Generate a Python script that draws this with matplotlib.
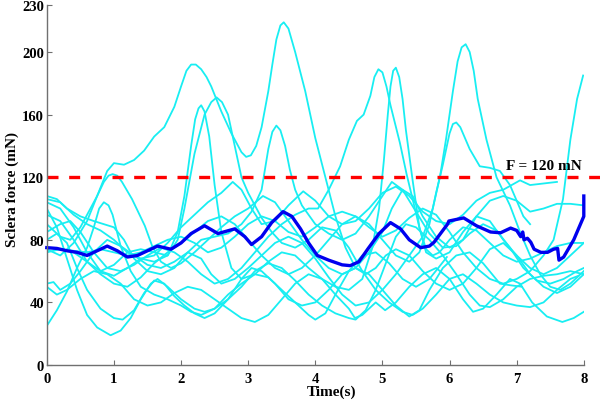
import matplotlib
matplotlib.use('Agg')
import matplotlib.pyplot as plt
import numpy as np

plt.rcParams['font.family'] = ['Liberation Serif', 'DejaVu Serif']
plt.rcParams['font.weight'] = 'bold'

# single trials, (time s, force mN)
c01 = [(0, 74), (0.2, 70), (0.4, 78), (0.6, 92), (0.75, 108), (0.9, 124), (1.0, 129), (1.15, 128),
       (1.3, 131), (1.45, 137), (1.6, 146), (1.75, 152), (1.9, 165), (2.0, 178), (2.08, 188), (2.15, 192),
       (2.22, 192), (2.3, 189), (2.38, 184), (2.45, 178), (2.6, 162), (2.75, 148), (2.9, 136), (2.97, 133),
       (3.04, 134), (3.12, 140), (3.2, 152), (3.3, 175), (3.36, 192), (3.42, 208), (3.48, 217), (3.53, 219),
       (3.6, 215), (3.7, 200), (3.85, 175), (4.0, 145), (4.15, 120), (4.3, 95), (4.45, 75), (4.6, 62),
       (4.75, 58), (4.9, 62), (5.05, 70), (5.2, 74), (5.4, 70), (5.6, 60), (5.8, 52), (6.0, 48),
       (6.2, 52), (6.4, 62), (6.6, 74), (6.8, 78), (7.0, 70), (7.2, 58), (7.4, 50), (7.6, 46),
       (7.8, 50), (8.0, 58)]
c02 = [(0, 104), (0.2, 100), (0.4, 88), (0.6, 72), (0.8, 60), (1.0, 57), (1.2, 62), (1.4, 68),
       (1.6, 66), (1.8, 70), (1.95, 85), (2.05, 108), (2.15, 140), (2.21, 157), (2.26, 164), (2.3, 166),
       (2.35, 162), (2.42, 146), (2.5, 115), (2.6, 85), (2.75, 62), (2.9, 55), (3.1, 58), (3.3, 66),
       (3.5, 72), (3.7, 70), (3.9, 62), (4.1, 55), (4.3, 50), (4.5, 48), (4.7, 55), (4.85, 75),
       (4.95, 100), (5.02, 130), (5.08, 160), (5.12, 178), (5.16, 188), (5.2, 190), (5.25, 184),
       (5.3, 170), (5.35, 150), (5.45, 118), (5.55, 88), (5.65, 72), (5.8, 68), (6.0, 72), (6.2, 85),
       (6.4, 95), (6.6, 92), (6.8, 80), (7.0, 70), (7.2, 62), (7.4, 58), (7.6, 62), (7.8, 70), (8.0, 78)]
c03 = [(0, 96), (0.2, 92), (0.4, 80), (0.6, 66), (0.8, 60), (1.0, 64), (1.2, 72), (1.4, 74),
       (1.6, 72), (1.8, 70), (1.95, 80), (2.05, 100), (2.2, 135), (2.35, 160), (2.45, 168), (2.53, 171),
       (2.61, 168), (2.7, 160), (2.8, 140), (2.9, 120), (3.0, 110), (3.1, 102), (3.2, 94), (3.35, 85),
       (3.5, 78), (3.7, 75), (3.9, 80), (4.1, 88), (4.3, 86), (4.5, 75), (4.7, 60), (4.9, 48),
       (5.1, 40), (5.3, 34), (5.45, 32), (5.6, 36), (5.8, 45), (6.0, 55), (6.2, 58), (6.4, 52),
       (6.6, 45), (6.8, 40), (7.0, 38), (7.2, 37), (7.4, 40), (7.6, 48), (7.8, 55), (7.92, 57)]
c04 = [(0, 90), (0.2, 82), (0.35, 80), (0.5, 88), (0.65, 100), (0.75, 108), (0.85, 117), (0.92, 121),
       (0.98, 122), (1.05, 121), (1.12, 117), (1.27, 106), (1.46, 89), (1.57, 76), (1.7, 66), (1.85, 62),
       (2.0, 65), (2.2, 72), (2.4, 80), (2.6, 88), (2.8, 95), (3.0, 100), (3.22, 108), (3.4, 104),
       (3.6, 92), (3.8, 80), (4.0, 70), (4.2, 62), (4.4, 58), (4.6, 62), (4.8, 72), (5.0, 85),
       (5.14, 100), (5.3, 112), (5.45, 108), (5.6, 95), (5.8, 82), (6.0, 75), (6.2, 80), (6.4, 95),
       (6.6, 105), (6.8, 108), (7.0, 105), (7.2, 98), (7.4, 100), (7.6, 103), (7.8, 103), (8.0, 102)]
c05 = [(0, 108), (0.15, 106), (0.3, 100), (0.5, 95), (0.7, 92), (0.85, 90), (1.0, 88), (1.15, 80),
       (1.3, 68), (1.5, 60), (1.7, 58), (1.9, 62), (2.1, 72), (2.3, 80), (2.5, 82), (2.7, 84),
       (2.9, 90), (3.05, 98), (3.2, 112), (3.3, 138), (3.36, 149), (3.42, 153), (3.48, 150), (3.55, 140),
       (3.62, 125), (3.7, 112), (3.8, 102), (4.0, 90), (4.2, 84), (4.4, 80), (4.6, 84), (4.8, 95),
       (5.0, 108), (5.14, 117), (5.3, 112), (5.5, 98), (5.7, 84), (5.9, 75), (6.1, 76), (6.3, 84),
       (6.5, 90), (6.7, 86), (6.9, 75), (7.1, 62), (7.3, 54), (7.5, 52), (7.7, 55), (7.9, 60), (8.0, 62)]
c06 = [(0, 25), (0.15, 35), (0.3, 47), (0.45, 62), (0.6, 75), (0.7, 88), (0.78, 100), (0.85, 104),
       (0.92, 102), (0.98, 96), (1.1, 76), (1.25, 60), (1.4, 50), (1.6, 45), (1.8, 42), (2.0, 38),
       (2.15, 34), (2.3, 32), (2.5, 36), (2.7, 45), (2.9, 52), (3.1, 58), (3.3, 56), (3.5, 48),
       (3.7, 40), (3.9, 32), (4.0, 29), (4.15, 33), (4.3, 45), (4.5, 60), (4.7, 70), (4.9, 72),
       (5.1, 65), (5.3, 55), (5.5, 50), (5.7, 55), (5.85, 63), (5.96, 69)]
c07 = [(0, 100), (0.15, 88), (0.3, 68), (0.45, 48), (0.6, 32), (0.75, 24), (0.95, 19), (1.1, 22),
       (1.25, 30), (1.4, 42), (1.55, 52), (1.65, 55), (1.8, 50), (2.0, 42), (2.2, 36), (2.35, 34),
       (2.5, 36), (2.7, 42), (2.9, 50), (3.1, 60), (3.3, 65), (3.5, 62), (3.7, 54), (3.9, 45),
       (4.1, 38), (4.3, 33), (4.5, 30), (4.6, 29), (4.75, 35), (4.9, 48), (5.05, 65), (5.2, 82),
       (5.35, 90), (5.5, 88), (5.7, 80), (5.9, 70), (6.1, 58), (6.3, 45), (6.45, 38), (6.6, 37),
       (6.8, 42), (7.0, 50), (7.2, 55), (7.4, 57), (7.6, 58), (7.8, 60), (8.0, 58)]
c08 = [(0, 80), (0.15, 84), (0.3, 78), (0.45, 62), (0.6, 48), (0.8, 36), (1.0, 30), (1.13, 29),
       (1.3, 35), (1.45, 46), (1.6, 54), (1.75, 52), (1.9, 44), (2.05, 38), (2.2, 33), (2.35, 30),
       (2.5, 33), (2.7, 42), (2.9, 55), (3.05, 62), (3.2, 60), (3.4, 52), (3.6, 42), (3.8, 38),
       (4.0, 40), (4.2, 48), (4.4, 58), (4.6, 62), (4.8, 58), (5.0, 48), (5.2, 38), (5.4, 31),
       (5.55, 35), (5.7, 48), (5.9, 62), (6.1, 70), (6.3, 72), (6.5, 65), (6.75, 52), (6.9, 51),
       (7.08, 50)]
c09 = [(0, 52), (0.1, 53), (0.2, 48), (0.35, 52), (0.5, 60), (0.7, 72), (0.9, 80), (1.1, 76),
       (1.3, 70), (1.5, 64), (1.7, 62), (1.9, 66), (2.1, 72), (2.3, 68), (2.45, 58), (2.6, 52),
       (2.8, 55), (3.0, 62), (3.2, 70), (3.4, 78), (3.6, 82), (3.8, 78), (4.0, 68), (4.2, 56),
       (4.4, 45), (4.6, 38), (4.8, 40), (5.0, 48), (5.2, 58), (5.4, 70), (5.6, 82), (5.75, 100),
       (5.86, 121), (5.95, 145), (6.05, 175), (6.12, 194), (6.18, 203), (6.24, 205), (6.3, 200),
       (6.36, 188), (6.42, 170), (6.55, 144), (6.7, 120), (6.9, 102), (7.05, 85), (7.2, 70),
       (7.35, 58), (7.5, 50), (7.65, 48), (7.8, 52), (8.0, 60)]
c10 = [(0, 85), (0.2, 90), (0.35, 92), (0.5, 85), (0.7, 72), (0.9, 62), (1.1, 60), (1.3, 64),
       (1.5, 70), (1.7, 75), (1.9, 72), (2.1, 66), (2.3, 58), (2.5, 52), (2.7, 55), (2.9, 62),
       (3.1, 72), (3.3, 82), (3.5, 90), (3.7, 96), (3.9, 100), (4.04, 100), (4.2, 112), (4.37, 127),
       (4.5, 144), (4.62, 156), (4.72, 160), (4.82, 172), (4.88, 184), (4.94, 189), (5.0, 187),
       (5.06, 178), (5.12, 166), (5.26, 142), (5.36, 122), (5.45, 106), (5.55, 88), (5.65, 74),
       (5.75, 70), (5.85, 72), (6.0, 80), (6.2, 88), (6.4, 86), (6.6, 78), (6.8, 70), (7.0, 66),
       (7.2, 68), (7.4, 72), (7.6, 76), (7.8, 78), (8.0, 78)]
c11 = [(0, 72), (0.2, 74), (0.4, 72), (0.6, 66), (0.8, 58), (1.0, 52), (1.2, 50), (1.4, 56),
       (1.6, 65), (1.8, 72), (2.0, 78), (2.2, 85), (2.4, 92), (2.6, 95), (2.8, 90), (3.0, 80),
       (3.2, 70), (3.4, 62), (3.6, 58), (3.8, 62), (4.0, 70), (4.2, 80), (4.4, 90), (4.6, 95),
       (4.8, 90), (5.0, 80), (5.2, 70), (5.4, 66), (5.55, 72), (5.7, 90), (5.8, 110), (5.9, 128),
       (6.0, 148), (6.05, 154), (6.1, 155), (6.16, 152), (6.3, 138), (6.45, 127), (6.6, 126),
       (6.75, 124), (6.9, 115), (7.0, 105), (7.1, 95), (7.2, 90)]
c12 = [(0, 75), (0.2, 74), (0.4, 73), (0.6, 72), (0.8, 74), (1.0, 72), (1.2, 70), (1.4, 72),
       (1.6, 76), (1.8, 80), (2.0, 82), (2.2, 78), (2.4, 72), (2.6, 75), (2.8, 82), (3.0, 90),
       (3.2, 95), (3.4, 92), (3.6, 85), (3.8, 82), (4.0, 88), (4.2, 95), (4.4, 98), (4.6, 95),
       (4.8, 88), (5.0, 82), (5.2, 86), (5.4, 94), (5.6, 100), (5.8, 96), (6.0, 85), (6.2, 72),
       (6.4, 62), (6.6, 55), (6.8, 52), (7.0, 55), (7.2, 60), (7.4, 70), (7.55, 80), (7.69, 106),
       (7.8, 144), (7.9, 170), (7.99, 185)]
c13 = [(0, 106), (0.2, 104), (0.4, 96), (0.6, 90), (0.8, 86), (1.0, 80), (1.2, 72), (1.4, 68),
       (1.6, 70), (1.8, 78), (2.0, 88), (2.2, 96), (2.4, 104), (2.6, 110), (2.77, 117), (2.9, 112),
       (3.05, 100), (3.2, 90), (3.4, 92), (3.6, 102), (3.82, 111), (4.0, 105), (4.2, 95), (4.4, 90),
       (4.6, 92), (4.8, 100), (5.0, 110), (5.2, 114), (5.4, 108), (5.6, 98), (5.8, 92), (6.0, 90),
       (6.2, 96), (6.4, 105), (6.6, 110), (6.8, 112), (7.05, 118), (7.2, 115), (7.4, 116), (7.6, 117)]
c14 = [(0, 50), (0.15, 45), (0.3, 48), (0.5, 55), (0.7, 60), (0.9, 58), (1.1, 52), (1.3, 42),
       (1.5, 38), (1.7, 40), (1.9, 46), (2.1, 50), (2.3, 48), (2.5, 42), (2.7, 36), (2.9, 30),
       (3.1, 27.5), (3.3, 32), (3.5, 42), (3.7, 52), (3.9, 58), (4.1, 55), (4.3, 45), (4.5, 36),
       (4.59, 30), (4.7, 32), (4.9, 40), (5.04, 35), (5.2, 40), (5.4, 50), (5.6, 58), (5.8, 62),
       (6.0, 55), (6.2, 42), (6.35, 34), (6.5, 36), (6.7, 45), (6.9, 55), (7.05, 52), (7.23, 40),
       (7.45, 31), (7.68, 27.5), (7.85, 30), (8.0, 34)]

trials = [c01, c02, c03, c04, c05, c06, c07, c08, c09, c10, c11, c12, c13, c14]

# mean force
mean_t = [0, 0.15, 0.3, 0.45, 0.6, 0.75, 0.9, 1.05, 1.2, 1.35, 1.5, 1.65, 1.85, 2.0, 2.15, 2.35,
          2.55, 2.8, 2.95, 3.05, 3.2, 3.35, 3.52, 3.65, 3.78, 3.9, 4.03, 4.2, 4.4, 4.52, 4.65, 4.78,
          4.95, 5.12, 5.27, 5.4, 5.57, 5.7, 5.77, 5.9, 5.97, 5.99, 6.1, 6.21, 6.4, 6.61, 6.76, 6.91,
          7.0, 7.06, 7.09, 7.11, 7.16, 7.21, 7.26, 7.36, 7.46, 7.55, 7.61, 7.63, 7.7, 7.85, 8.0, 8.0]
mean_v = [75, 74.5, 73, 72, 70, 73, 76, 73, 69, 70, 73, 76, 74, 78, 84, 89,
          84, 87, 82, 77, 82, 91, 98, 95, 87, 78, 70, 67, 64, 63.5, 66, 74,
          84, 91, 87, 80, 75, 76, 78.5, 86, 90, 92, 93, 94, 89, 85, 84.5, 87.5,
          86, 82, 85, 80, 81, 78.5, 74, 72, 72, 74, 74.5, 67, 69, 80, 95, 108]

limit = 120
xticks = [0, 1, 2, 3, 4, 5, 6, 7, 8]
yticks = [0, 40, 80, 120, 160, 200, 230]

fig = plt.figure(figsize=(6.0, 4.06), dpi=100)
ax = fig.add_axes([0.078, 0.0985, 0.895, 0.8865])

for tr in trials:
    t, v = zip(*tr)
    ax.plot(t, v, color='#18eef2', lw=1.3, solid_joinstyle='round')

ax.plot(mean_t, mean_v, color='#0000ee', lw=2.4, clip_on=False, solid_joinstyle='round')
ax.plot([0, 8.28], [limit, limit], color='#ff0000', lw=2.4, dashes=(3.3, 3.2), clip_on=False)
ax.text(7.97, 125, 'F = 120 mN', ha='right', va='baseline', fontsize=11, fontweight='bold')

ax.set_xlim(0, 8)
ax.set_ylim(0, 230)
ax.set_xticks(xticks)
ax.set_yticks(yticks)
ax.tick_params(direction='in', length=3.5, width=0.8, color='#707070', labelsize=10.5)
ax.tick_params(axis='x', pad=5)
ax.tick_params(axis='y', pad=2)
for lab in ax.get_xticklabels() + ax.get_yticklabels():
    lab.set_fontweight('bold')

for s in ['top', 'right']:
    ax.spines[s].set_visible(False)
for s in ['left', 'bottom']:
    ax.spines[s].set_color('#707070')
    ax.spines[s].set_linewidth(1.0)

ax.set_xlabel('Time(s)', fontsize=11, fontweight='bold')
ax.set_ylabel('Sclera force (mN)', fontsize=11, fontweight='bold')
ax.xaxis.set_label_coords(0.531, -0.053)
ax.yaxis.set_label_coords(-0.052, 0.49)

fig.savefig('out.png', dpi=100)
